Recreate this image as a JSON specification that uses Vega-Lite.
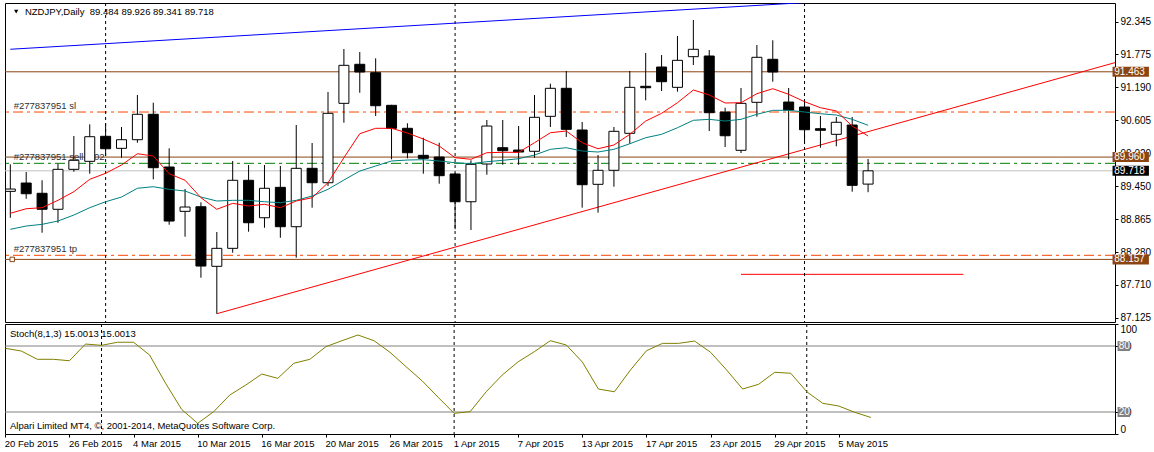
{
  "$schema": "https://vega.github.io/schema/vega-lite/v6.json",
  "background": "white",
  "padding": {"left": 3, "top": 2, "right": 0, "bottom": 0},
  "bounds": "flush",
  "spacing": 2,
  "config": {
    "view": {"stroke": "black", "strokeWidth": 1},
    "font": "Liberation Sans",
    "axis": {"labelFont": "Liberation Sans", "labelFontSize": 10, "labelColor": "black", "tickColor": "black", "tickSize": 3, "domain": false, "grid": false, "labelPadding": 2, "labelOverlap": false}
  },
  "datasets": {
    "bars": [
      {"i":0,"d":"20 Feb","o":89.356,"h":89.832,"l":88.891,"c":89.397,"m1":88.969,"m2":88.687,"s":77.9},
      {"i":1,"d":"23 Feb","o":89.503,"h":89.697,"l":89.226,"c":89.314,"m1":89.050,"m2":88.745,"s":75.4},
      {"i":2,"d":"24 Feb","o":89.322,"h":89.551,"l":88.627,"c":89.040,"m1":89.068,"m2":88.775,"s":67.9},
      {"i":3,"d":"25 Feb","o":89.040,"h":89.843,"l":88.803,"c":89.744,"m1":89.198,"m2":88.833,"s":67.9},
      {"i":4,"d":"26 Feb","o":89.744,"h":90.331,"l":89.702,"c":89.903,"m1":89.350,"m2":88.939,"s":66.6},
      {"i":5,"d":"27 Feb","o":89.885,"h":90.537,"l":89.667,"c":90.319,"m1":89.568,"m2":89.068,"s":81.8},
      {"i":6,"d":"2 Mar","o":90.326,"h":90.555,"l":89.979,"c":90.107,"m1":89.674,"m2":89.173,"s":80.6},
      {"i":7,"d":"3 Mar","o":90.114,"h":90.490,"l":89.949,"c":90.266,"m1":89.820,"m2":89.256,"s":83.4},
      {"i":8,"d":"4 Mar","o":90.266,"h":91.054,"l":90.213,"c":90.714,"m1":90.019,"m2":89.410,"s":83.4},
      {"i":9,"d":"5 Mar","o":90.714,"h":90.918,"l":89.568,"c":89.773,"m1":89.979,"m2":89.438,"s":71.8},
      {"i":10,"d":"6 Mar","o":89.785,"h":90.114,"l":88.768,"c":88.833,"m1":89.667,"m2":89.392,"s":46.1},
      {"i":11,"d":"9 Mar","o":89.004,"h":89.397,"l":88.557,"c":89.080,"m1":89.551,"m2":89.362,"s":22.4},
      {"i":12,"d":"10 Mar","o":89.085,"h":89.163,"l":87.834,"c":88.040,"m1":89.244,"m2":89.256,"s":9.7},
      {"i":13,"d":"11 Mar","o":88.035,"h":88.640,"l":87.200,"c":88.352,"m1":89.040,"m2":89.186,"s":20.3},
      {"i":14,"d":"12 Mar","o":88.352,"h":89.891,"l":88.275,"c":89.551,"m1":89.145,"m2":89.198,"s":35.4},
      {"i":15,"d":"13 Mar","o":89.551,"h":89.820,"l":88.645,"c":88.803,"m1":89.098,"m2":89.198,"s":44.5},
      {"i":16,"d":"16 Mar","o":88.891,"h":89.820,"l":88.715,"c":89.410,"m1":89.128,"m2":89.173,"s":54.5},
      {"i":17,"d":"17 Mar","o":89.427,"h":89.803,"l":88.539,"c":88.733,"m1":89.068,"m2":89.156,"s":50.6},
      {"i":18,"d":"18 Mar","o":88.733,"h":90.525,"l":88.187,"c":89.762,"m1":89.186,"m2":89.198,"s":64.3},
      {"i":19,"d":"19 Mar","o":89.762,"h":90.208,"l":89.068,"c":89.508,"m1":89.244,"m2":89.274,"s":67.9},
      {"i":20,"d":"20 Mar","o":89.508,"h":91.106,"l":89.450,"c":90.731,"m1":89.508,"m2":89.392,"s":79.4},
      {"i":21,"d":"23 Mar","o":90.907,"h":91.864,"l":90.566,"c":91.577,"m1":89.949,"m2":89.556,"s":84.8},
      {"i":22,"d":"24 Mar","o":91.595,"h":91.811,"l":91.094,"c":91.459,"m1":90.372,"m2":89.714,"s":90.0},
      {"i":23,"d":"25 Mar","o":91.447,"h":91.700,"l":90.684,"c":90.865,"m1":90.467,"m2":89.803,"s":84.8},
      {"i":24,"d":"26 Mar","o":90.872,"h":90.880,"l":89.921,"c":90.467,"m1":90.467,"m2":89.891,"s":74.3},
      {"i":25,"d":"27 Mar","o":90.467,"h":90.555,"l":89.938,"c":90.037,"m1":90.384,"m2":89.908,"s":61.2},
      {"i":26,"d":"30 Mar","o":89.991,"h":90.301,"l":89.667,"c":89.938,"m1":90.278,"m2":89.914,"s":48.4},
      {"i":27,"d":"31 Mar","o":89.961,"h":90.213,"l":89.491,"c":89.632,"m1":90.155,"m2":89.891,"s":33.4},
      {"i":28,"d":"1 Apr","o":89.662,"h":89.680,"l":88.687,"c":89.173,"m1":89.949,"m2":89.861,"s":18.8},
      {"i":29,"d":"2 Apr","o":89.173,"h":89.903,"l":88.675,"c":89.832,"m1":89.921,"m2":89.843,"s":20.3},
      {"i":30,"d":"3 Apr","o":89.838,"h":90.613,"l":89.649,"c":90.507,"m1":90.037,"m2":89.878,"s":38.4},
      {"i":31,"d":"6 Apr","o":90.125,"h":90.613,"l":89.825,"c":90.072,"m1":90.044,"m2":89.903,"s":53.6},
      {"i":32,"d":"7 Apr","o":90.084,"h":90.507,"l":89.825,"c":90.049,"m1":90.044,"m2":89.931,"s":65.7},
      {"i":33,"d":"8 Apr","o":90.062,"h":91.054,"l":89.949,"c":90.661,"m1":90.213,"m2":89.996,"s":74.8},
      {"i":34,"d":"9 Apr","o":90.678,"h":91.253,"l":90.490,"c":91.172,"m1":90.389,"m2":90.097,"s":84.8},
      {"i":35,"d":"10 Apr","o":91.172,"h":91.477,"l":90.314,"c":90.449,"m1":90.419,"m2":90.125,"s":80.9},
      {"i":36,"d":"13 Apr","o":90.437,"h":90.578,"l":89.068,"c":89.473,"m1":90.213,"m2":90.067,"s":65.4},
      {"i":37,"d":"14 Apr","o":89.480,"h":89.996,"l":88.980,"c":89.727,"m1":90.107,"m2":90.049,"s":40.9},
      {"i":38,"d":"15 Apr","o":89.727,"h":90.490,"l":89.438,"c":90.414,"m1":90.173,"m2":90.097,"s":38.4},
      {"i":39,"d":"16 Apr","o":90.379,"h":91.477,"l":90.196,"c":91.189,"m1":90.361,"m2":90.195,"s":58.2},
      {"i":40,"d":"17 Apr","o":91.207,"h":91.794,"l":90.960,"c":91.182,"m1":90.595,"m2":90.301,"s":75.7},
      {"i":41,"d":"20 Apr","o":91.547,"h":91.758,"l":91.124,"c":91.288,"m1":90.731,"m2":90.361,"s":82.4},
      {"i":42,"d":"21 Apr","o":91.189,"h":92.093,"l":91.112,"c":91.665,"m1":90.918,"m2":90.477,"s":82.4},
      {"i":43,"d":"22 Apr","o":91.729,"h":92.375,"l":91.582,"c":91.859,"m1":91.142,"m2":90.608,"s":84.5},
      {"i":44,"d":"23 Apr","o":91.741,"h":91.847,"l":90.419,"c":90.742,"m1":91.054,"m2":90.625,"s":74.3},
      {"i":45,"d":"24 Apr","o":90.754,"h":90.830,"l":90.137,"c":90.336,"m1":90.913,"m2":90.595,"s":58.2},
      {"i":46,"d":"27 Apr","o":90.079,"h":91.177,"l":90.032,"c":90.907,"m1":90.918,"m2":90.625,"s":40.9},
      {"i":47,"d":"28 Apr","o":90.925,"h":91.935,"l":90.671,"c":91.718,"m1":91.077,"m2":90.714,"s":45.2},
      {"i":48,"d":"29 Apr","o":91.683,"h":92.018,"l":91.288,"c":91.459,"m1":91.165,"m2":90.784,"s":56.1},
      {"i":49,"d":"30 Apr","o":90.930,"h":91.177,"l":89.921,"c":90.789,"m1":91.066,"m2":90.784,"s":55.2},
      {"i":50,"d":"1 May","o":90.842,"h":90.960,"l":90.196,"c":90.442,"m1":90.936,"m2":90.754,"s":38.4},
      {"i":51,"d":"4 May","o":90.460,"h":90.684,"l":90.125,"c":90.432,"m1":90.830,"m2":90.724,"s":27.9},
      {"i":52,"d":"5 May","o":90.361,"h":90.666,"l":90.150,"c":90.573,"m1":90.772,"m2":90.701,"s":25.4},
      {"i":53,"d":"6 May","o":90.525,"h":90.666,"l":89.350,"c":89.462,"m1":90.507,"m2":90.625,"s":19.7},
      {"i":54,"d":"7 May","o":89.484,"h":89.926,"l":89.341,"c":89.718,"m1":90.331,"m2":90.520,"s":15.0013}
    ],
    "levels": [
      {"p": 91.463, "k": "line"},
      {"p": 90.754, "k": "sl"},
      {"p": 89.960, "k": "line"},
      {"p": 89.850, "k": "open"},
      {"p": 89.718, "k": "bid"},
      {"p": 88.229, "k": "tp"},
      {"p": 88.157, "k": "line"}
    ],
    "boxes": [
      {"p": 91.463, "k": "line"},
      {"p": 89.960, "k": "line"},
      {"p": 89.718, "k": "bid"},
      {"p": 88.157, "k": "line"}
    ],
    "orders": [
      {"t": "#277837951 sl", "p": 90.754},
      {"t": "#277837951 sell 1.02", "p": 89.85},
      {"t": "#277837951 tp", "p": 88.229}
    ],
    "sep": [{"i": 6}, {"i": 28}, {"i": 50}],
    "blue": [{"i": 0, "p": 91.86}, {"i": 69, "p": 92.994}],
    "redtrend": [{"i": 13, "p": 87.2}, {"i": 70, "p": 91.66}],
    "redseg": [{"i": 46, "p": 87.894}, {"i": 60, "p": 87.894}],
    "stlev": [{"v": 20}, {"v": 80}],
    "title": [{"t": "NZDJPY,Daily \u00a089.484 89.926 89.341 89.718"}],
    "stochtitle": [{"t": "Stoch(8,1,3) 15.0013 15.0013"}],
    "copy": [{"t": "Alpari Limited MT4, \u00a9, 2001-2014, MetaQuotes Software Corp."}]
  },
  "vconcat": [
    {
      "width": 1110,
      "height": 319,
      "resolve": {"axis": {"x": "independent", "y": "independent"}},
      "layer": [
        {
          "data": {"name": "levels"},
          "mark": {"type": "rule", "strokeWidth": 1},
          "encoding": {
            "y": {"field": "p", "type": "quantitative", "title": null, "scale": {"domain": [87.054, 92.675], "nice": false, "zero": false},
                  "axis": {"orient": "right", "title": null, "values": [92.345, 91.775, 91.19, 90.605, 90.02, 89.45, 88.865, 88.28, 87.71, 87.125], "format": ".3f", "labelFontSize": 10, "labelOverlap": false}},
            "color": {"field": "k", "type": "nominal", "legend": null, "scale": {"domain": ["line", "sl", "open", "bid", "tp"], "range": ["#8B4513", "#FF4500", "#008000", "#C0C0C0", "#FF4500"]}},
            "strokeDash": {"field": "k", "type": "nominal", "legend": null, "scale": {"domain": ["line", "sl", "open", "bid", "tp"], "range": [[1, 0], [10, 4, 3, 4], [10, 4, 3, 4], [1, 0], [10, 4, 3, 4]]}}
          }
        },
        {
          "data": {"name": "blue"},
          "mark": {"type": "line", "color": "#0000FF", "strokeWidth": 1, "clip": true},
          "encoding": {
            "x": {"field": "i", "type": "quantitative", "title": null, "scale": {"domain": [-0.02, 69.23], "nice": false, "zero": false}, "axis": null},
            "y": {"field": "p", "type": "quantitative", "title": null, "scale": {"domain": [87.054, 92.675], "nice": false, "zero": false}, "axis": null}
          }
        },
        {
          "data": {"name": "redtrend"},
          "mark": {"type": "line", "color": "#FF0000", "strokeWidth": 1, "clip": true},
          "encoding": {
            "x": {"field": "i", "type": "quantitative", "title": null, "scale": {"domain": [-0.02, 69.23], "nice": false, "zero": false}, "axis": null},
            "y": {"field": "p", "type": "quantitative", "title": null, "scale": {"domain": [87.054, 92.675], "nice": false, "zero": false}, "axis": null}
          }
        },
        {
          "data": {"name": "redseg"},
          "mark": {"type": "line", "color": "#FF0000", "strokeWidth": 1, "clip": true},
          "encoding": {
            "x": {"field": "i", "type": "quantitative", "title": null, "scale": {"domain": [-0.02, 69.23], "nice": false, "zero": false}, "axis": null},
            "y": {"field": "p", "type": "quantitative", "title": null, "scale": {"domain": [87.054, 92.675], "nice": false, "zero": false}, "axis": null}
          }
        },
        {
          "data": {"name": "sep"},
          "mark": {"type": "rule", "color": "black", "strokeDash": [3, 3], "strokeWidth": 1},
          "encoding": {
            "x": {"field": "i", "type": "quantitative", "title": null, "scale": {"domain": [-0.02, 69.23], "nice": false, "zero": false}, "axis": null}
          }
        },
        {
          "data": {"name": "orders"},
          "mark": {"type": "text", "align": "left", "baseline": "bottom", "dy": -1, "fontSize": 9.5, "color": "#303030", "font": "Liberation Sans"},
          "encoding": {
            "x": {"datum": 0.21, "type": "quantitative", "title": null, "scale": {"domain": [-0.02, 69.23], "nice": false, "zero": false}, "axis": null},
            "y": {"field": "p", "type": "quantitative", "title": null, "scale": {"domain": [87.054, 92.675], "nice": false, "zero": false}, "axis": null},
            "text": {"field": "t"}
          }
        },
        {
          "data": {"name": "bars"},
          "mark": {"type": "rule", "color": "black", "strokeWidth": 1, "clip": true},
          "encoding": {
            "x": {"field": "i", "type": "quantitative", "title": null, "scale": {"domain": [-0.02, 69.23], "nice": false, "zero": false}, "axis": null},
            "y": {"field": "l", "type": "quantitative", "title": null, "scale": {"domain": [87.054, 92.675], "nice": false, "zero": false}, "axis": null},
            "y2": {"field": "h"}
          }
        },
        {
          "data": {"name": "bars"},
          "mark": {"type": "bar", "width": 10, "stroke": "black", "strokeWidth": 1, "clip": true},
          "encoding": {
            "x": {"field": "i", "type": "quantitative", "title": null, "scale": {"domain": [-0.02, 69.23], "nice": false, "zero": false}, "axis": null},
            "y": {"field": "o", "type": "quantitative", "title": null, "scale": {"domain": [87.054, 92.675], "nice": false, "zero": false}, "axis": null},
            "y2": {"field": "c"},
            "fill": {"condition": {"test": "datum.c >= datum.o", "value": "white"}, "value": "black"}
          }
        },
        {
          "data": {"name": "bars"},
          "mark": {"type": "line", "color": "#008080", "strokeWidth": 1, "clip": true},
          "encoding": {
            "x": {"field": "i", "type": "quantitative", "title": null, "scale": {"domain": [-0.02, 69.23], "nice": false, "zero": false}, "axis": null},
            "y": {"field": "m2", "type": "quantitative", "title": null, "scale": {"domain": [87.054, 92.675], "nice": false, "zero": false}, "axis": null}
          }
        },
        {
          "data": {"name": "bars"},
          "mark": {"type": "line", "color": "#FF0000", "strokeWidth": 1, "clip": true},
          "encoding": {
            "x": {"field": "i", "type": "quantitative", "title": null, "scale": {"domain": [-0.02, 69.23], "nice": false, "zero": false}, "axis": null},
            "y": {"field": "m1", "type": "quantitative", "title": null, "scale": {"domain": [87.054, 92.675], "nice": false, "zero": false}, "axis": null}
          }
        },
        {
          "data": {"name": "title"},
          "mark": {"type": "text", "align": "left", "baseline": "top", "dy": 4, "fontSize": 9.5, "color": "black", "font": "Liberation Sans"},
          "encoding": {
            "x": {"datum": 0.92, "type": "quantitative", "title": null, "scale": {"domain": [-0.02, 69.23], "nice": false, "zero": false}, "axis": null},
            "y": {"datum": 92.675, "type": "quantitative", "title": null, "scale": {"domain": [87.054, 92.675], "nice": false, "zero": false}, "axis": null},
            "text": {"field": "t"}
          }
        },
        {
          "data": {"name": "title"},
          "mark": {"type": "point", "shape": "triangle-down", "size": 18, "filled": true, "color": "black", "opacity": 1, "yOffset": 8.7},
          "encoding": {
            "x": {"datum": 0.37, "type": "quantitative", "title": null, "scale": {"domain": [-0.02, 69.23], "nice": false, "zero": false}, "axis": null},
            "y": {"datum": 92.675, "type": "quantitative", "title": null, "scale": {"domain": [87.054, 92.675], "nice": false, "zero": false}, "axis": null}
          }
        },
        {
          "data": {"name": "boxes"},
          "transform": [{"filter": "datum.p < 88.2"}],
          "mark": {"type": "point", "shape": "square", "size": 20, "filled": false, "color": "#8B4513", "fill": "white", "strokeWidth": 1, "opacity": 1},
          "encoding": {
            "x": {"datum": 0.12, "type": "quantitative", "title": null, "scale": {"domain": [-0.02, 69.23], "nice": false, "zero": false}, "axis": null},
            "y": {"field": "p", "type": "quantitative", "title": null, "scale": {"domain": [87.054, 92.675], "nice": false, "zero": false}, "axis": null}
          }
        },
        {
          "data": {"name": "boxes"},
          "mark": {"type": "rect", "yOffset": -5, "y2Offset": 5},
          "encoding": {
            "x": {"datum": 69.39, "type": "quantitative", "title": null, "scale": {"domain": [-0.02, 69.23], "nice": false, "zero": false}, "axis": null},
            "x2": {"datum": 71.68},
            "y": {"field": "p", "type": "quantitative", "title": null, "scale": {"domain": [87.054, 92.675], "nice": false, "zero": false}, "axis": null},
            "y2": {"field": "p"},
            "fill": {"condition": {"test": "datum.k === 'bid'", "value": "black"}, "value": "#8B4513"}
          }
        },
        {
          "data": {"name": "boxes"},
          "mark": {"type": "text", "align": "left", "baseline": "middle", "fontSize": 10, "color": "white", "font": "Liberation Sans"},
          "encoding": {
            "x": {"datum": 69.5, "type": "quantitative", "title": null, "scale": {"domain": [-0.02, 69.23], "nice": false, "zero": false}, "axis": null},
            "y": {"field": "p", "type": "quantitative", "title": null, "scale": {"domain": [87.054, 92.675], "nice": false, "zero": false}, "axis": null},
            "text": {"field": "p", "type": "quantitative", "format": ".3f"}
          }
        }
      ]
    },
    {
      "width": 1110,
      "height": 110,
      "resolve": {"axis": {"x": "independent", "y": "independent"}},
      "layer": [
        {
          "data": {"name": "stlev"},
          "mark": {"type": "rule", "color": "#808080", "strokeWidth": 1},
          "encoding": {
            "y": {"field": "v", "type": "quantitative", "title": null, "scale": {"domain": [0, 100], "nice": false, "zero": false},
                  "axis": {"orient": "right", "title": null, "values": [0, 20, 80, 100], "labelFlush": true, "labelFontSize": 10, "labelOverlap": false}}
          }
        },
        {
          "data": {"name": "sep"},
          "mark": {"type": "rule", "color": "black", "strokeDash": [3, 3], "strokeWidth": 1},
          "encoding": {
            "x": {"field": "i", "type": "quantitative", "title": null, "scale": {"domain": [-0.02, 69.23], "nice": false, "zero": false},
                  "axis": {"orient": "bottom", "title": null, "values": [0, 4, 8, 12, 16, 20, 24, 28, 32, 36, 40, 44, 48, 52],
                           "labelExpr": "['20 Feb 2015','26 Feb 2015','4 Mar 2015','10 Mar 2015','16 Mar 2015','20 Mar 2015','26 Mar 2015','1 Apr 2015','7 Apr 2015','13 Apr 2015','17 Apr 2015','23 Apr 2015','29 Apr 2015','5 May 2015'][round(datum.value/4)]",
                           "labelAlign": "left", "labelOffset": -1, "labelFlush": false, "labelOverlap": false, "labelFontSize": 9.5, "tickSize": 3, "labelPadding": 1}}
          }
        },
        {
          "data": {"name": "bars"},
          "mark": {"type": "line", "color": "#808000", "strokeWidth": 1, "clip": true},
          "encoding": {
            "x": {"field": "i", "type": "quantitative", "title": null, "scale": {"domain": [-0.02, 69.23], "nice": false, "zero": false}, "axis": null},
            "y": {"field": "s", "type": "quantitative", "title": null, "scale": {"domain": [0, 100], "nice": false, "zero": false}, "axis": null}
          }
        },
        {
          "data": {"name": "stochtitle"},
          "mark": {"type": "text", "align": "left", "baseline": "top", "dy": 4.5, "fontSize": 9.5, "color": "black", "font": "Liberation Sans"},
          "encoding": {
            "x": {"datum": 0.29, "type": "quantitative", "title": null, "scale": {"domain": [-0.02, 69.23], "nice": false, "zero": false}, "axis": null},
            "y": {"datum": 100, "type": "quantitative", "title": null, "scale": {"domain": [0, 100], "nice": false, "zero": false}, "axis": null},
            "text": {"field": "t"}
          }
        },
        {
          "data": {"name": "copy"},
          "mark": {"type": "text", "align": "left", "baseline": "bottom", "dy": -3, "fontSize": 9.5, "color": "black", "font": "Liberation Sans"},
          "encoding": {
            "x": {"datum": 0.29, "type": "quantitative", "title": null, "scale": {"domain": [-0.02, 69.23], "nice": false, "zero": false}, "axis": null},
            "y": {"datum": 0, "type": "quantitative", "title": null, "scale": {"domain": [0, 100], "nice": false, "zero": false}, "axis": null},
            "text": {"field": "t"}
          }
        },
        {
          "data": {"name": "stlev"},
          "mark": {"type": "rect", "yOffset": -5, "y2Offset": 5, "color": "#808080"},
          "encoding": {
            "x": {"datum": 69.39, "type": "quantitative", "title": null, "scale": {"domain": [-0.02, 69.23], "nice": false, "zero": false}, "axis": null},
            "x2": {"datum": 70.16},
            "y": {"field": "v", "type": "quantitative", "title": null, "scale": {"domain": [0, 100], "nice": false, "zero": false}, "axis": null},
            "y2": {"field": "v"}
          }
        },
        {
          "data": {"name": "stlev"},
          "mark": {"type": "text", "align": "left", "baseline": "middle", "fontSize": 10, "color": "white", "font": "Liberation Sans"},
          "encoding": {
            "x": {"datum": 69.46, "type": "quantitative", "title": null, "scale": {"domain": [-0.02, 69.23], "nice": false, "zero": false}, "axis": null},
            "y": {"field": "v", "type": "quantitative", "title": null, "scale": {"domain": [0, 100], "nice": false, "zero": false}, "axis": null},
            "text": {"field": "v", "type": "quantitative"}
          }
        }
      ]
    }
  ]
}
